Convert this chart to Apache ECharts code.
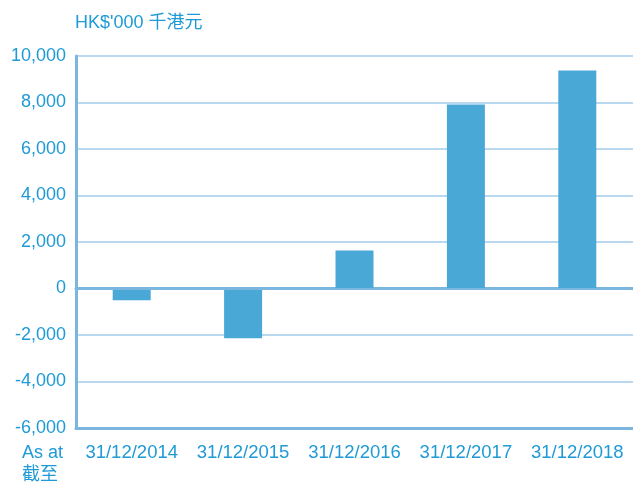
<!DOCTYPE html>
<html>
<head>
<meta charset="utf-8">
<script src="https://cdn.jsdelivr.net/npm/echarts@6/dist/echarts.min.js"></script>
<style>
  html, body { margin: 0; padding: 0; background: #fff; }
  #chart { width: 633px; height: 482px; }
</style>
</head>
<body>
<div id="chart"></div>
<script>
// 数据
const categories = ['31/12/2014', '31/12/2015', '31/12/2016', '31/12/2017', '31/12/2018']
const values = [-500, -2140, 1630, 7910, 9380]
const yMin = -6000
const yMax = 10000
const yStep = 2000

const textColor = '#1e9ad6'
const axisColor = '#7ab6de'
const gridColor = '#b9d9ef'
const font = '"Liberation Sans", Arial, sans-serif'

const chart = echarts.init(document.getElementById('chart'))
const option = {
  animation: false,
  title: {
    text: "HK$'000 千港元",
    left: 75,
    top: 14,
    padding: 0,
    textStyle: { color: textColor, fontSize: 18, fontWeight: 'normal', fontFamily: '"Liberation Sans", "Noto Sans CJK TC", sans-serif' }
  },
  grid: { left: 76, right: 0, top: 56, bottom: 54, containLabel: false },
  xAxis: [
    {
      type: 'category',
      data: categories,
      position: 'bottom',
      axisLine: { onZero: false, lineStyle: { color: axisColor, width: 3 } },
      axisTick: { show: false },
      axisLabel: { color: textColor, fontSize: 18.5, fontFamily: font, margin: 15, interval: 0 }
    },
    {
      type: 'category',
      data: categories,
      position: 'top',
      axisLine: { lineStyle: { color: axisColor, width: 3 } },
      axisTick: { show: false },
      axisLabel: { show: false }
    }
  ],
  yAxis: {
    type: 'value',
    min: yMin,
    max: yMax,
    interval: yStep,
    axisLine: { show: true, lineStyle: { color: axisColor, width: 3 } },
    axisTick: { show: false },
    splitLine: { lineStyle: { color: gridColor, width: 2 } },
    axisLabel: {
      color: textColor, fontSize: 18, fontFamily: font, margin: 10,
      formatter: v => v.toLocaleString('en-US')
    }
  },
  graphic: [
    {
      type: 'text',
      left: 22,
      top: 442,
      style: {
        text: 'As at\n截至',
        fill: textColor,
        font: '18px "Liberation Sans", "Noto Sans CJK TC", sans-serif',
        lineHeight: 22
      }
    }
  ],
  series: [
    {
      type: 'bar',
      data: values,
      barWidth: 38,
      itemStyle: { color: '#4aa8d7' },
      markLine: {
        silent: true,
        symbol: 'none',
        label: { show: false },
        lineStyle: { color: axisColor, width: 2, type: 'solid' },
        data: [{ yAxis: 0 }]
      }
    }
  ]
}
chart.setOption(option)
</script>
</body>
</html>
